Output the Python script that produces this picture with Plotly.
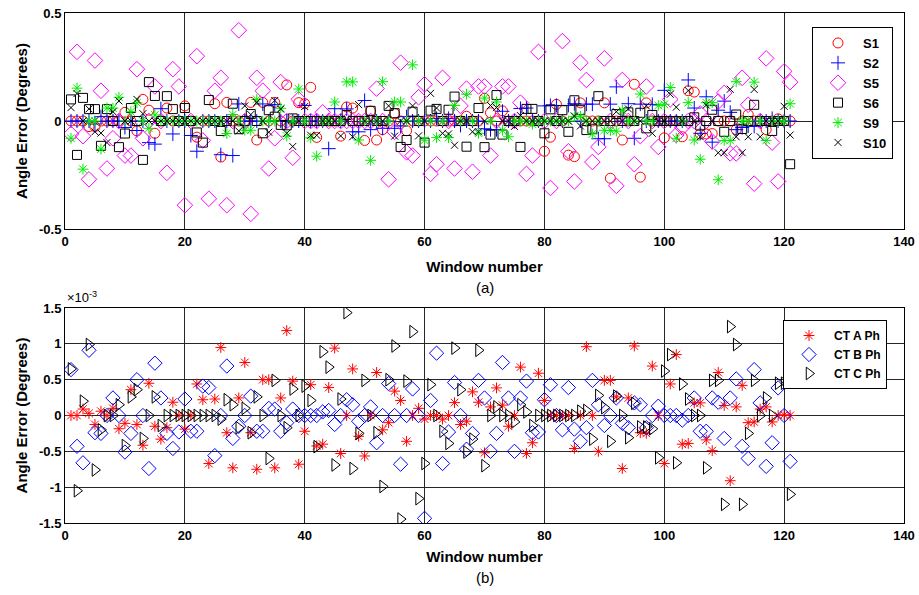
import numpy as np
import plotly.graph_objects as go

# Window index shared by every series
windows = list(range(1, 122))

# ---- (a) per-sensor angle error, degrees ----
s1 = [0, 0, 0, -0.026, -0.026, 0, 0, 0, 0, 0.04,
      0, -0.046, 0.10, 0.05, -0.057, 0, 0.06, 0, 0, 0.07,
      0, -0.075, 0, 0, 0.08, -0.167, 0.086, 0, 0, 0,
      0.086, -0.088, 0.086, 0, 0.086, 0, 0.167, 0, 0.085, 0.08,
      0.156, -0.076, 0, 0, 0, -0.07, 0.065, 0.06, 0, -0.09,
      0.046, -0.088, -0.04, 0, 0.035, 0, -0.045, 0, 0, 0,
      0, 0, 0, 0, 0, 0, 0.022, 0, 0, 0.105,
      0.038, 0, 0.047, 0, 0, 0, 0, 0, 0, -0.14,
      -0.075, 0.077, 0, -0.158, -0.165, 0.084, 0, 0, 0, 0.084,
      -0.265, 0, -0.088, 0, 0.17, -0.26, 0.084, 0, 0, -0.078,
      0, 0, -0.073, 0.14, 0.134, -0.06, -0.06, -0.058, 0, 0,
      0, -0.04, 0, 0.03, 0, 0, -0.04, 0, 0.01, 0, 0]

s2 = [0, 0, 0, 0, -0.014, 0.02, 0, 0, 0, -0.03,
      0, -0.044, 0, -0.1, -0.107, 0.057, 0, -0.06, 0, 0,
      -0.067, -0.14, 0, 0, 0, -0.156, 0, -0.16, 0.079, 0,
      0, 0, 0.079, 0, 0.076, 0, 0, 0, 0, 0.072,
      0, 0, 0, -0.128, 0.057, 0, 0.056, -0.05, -0.05, 0.095,
      -0.04, 0, -0.034, 0, -0.034, -0.023, 0.02, 0, 0, 0,
      0, 0.012, 0, 0.012, 0, -0.02, 0, 0, 0, -0.036,
      -0.04, -0.04, 0.045, 0, 0, 0.058, 0.06, 0, 0, 0.07,
      0.072, 0.072, 0, 0.072, 0.08, 0, 0.078, 0.078, -0.082, -0.082,
      0.078, 0.158, 0, 0.08, -0.08, 0.078, 0, 0.077, 0, 0.142,
      0, 0, 0, 0.19, 0.06, -0.057, 0.112, -0.098, 0.05, 0.092,
      0.04, -0.04, -0.03, -0.023, -0.025, 0, 0, 0.012, 0, 0, 0]

s5 = [-0.06, 0.32, -0.07, -0.27, 0.28, 0.14, -0.22, -0.08, 0, -0.16,
      -0.16, 0.24, -0.08, 0, 0.16, 0, -0.24, 0.24, 0.16, -0.39,
      0, 0.30, -0.09, -0.36, 0.14, 0.20, -0.39, 0, 0.42, 0,
      -0.43, 0.20, 0.14, -0.22, -0.08, 0.18, 0, -0.17, 0.10, 0,
      0, 0, 0.04, 0, 0, 0, 0, 0, 0, 0,
      0, 0.15, 0, -0.27, -0.05, 0.27, -0.145, -0.16, 0.11, 0.17,
      -0.245, -0.20, 0.20, 0, -0.22, 0.07, 0.15, -0.235, 0.16, 0.16,
      -0.16, 0, 0.16, 0.16, 0, 0.085, -0.245, -0.16, 0.32, 0,
      -0.31, 0, 0.37, -0.14, -0.28, 0.27, 0.19, -0.19, -0.12, 0.29,
      0, -0.30, 0.19, 0, -0.20, -0.07, 0.16, 0, -0.12, 0,
      0.10, -0.065, -0.03, 0, 0, 0.035, 0, -0.095, 0.09, 0.13,
      -0.15, -0.15, 0.20, 0.075, -0.29, 0, 0.29, -0.10, -0.28, 0.23, 0.18]

s6 = [0.1, -0.157, 0.107, 0.055, 0.055, -0.115, 0.055, 0, -0.121, -0.058,
      0.06, 0, -0.18, 0.18, 0.116, 0, 0.115, 0.055, 0, 0.06,
      0, -0.053, -0.1, 0.097, 0, -0.046, 0, 0.08, -0.038, 0,
      0.032, 0, -0.057, 0.05, 0.02, -0.018, -0.02, 0.012, 0, 0,
      0, 0, 0, 0, 0, 0, 0.028, 0, 0, 0,
      0.047, 0, 0, 0.07, 0.036, -0.12, -0.088, 0.043, 0, -0.1,
      0.048, 0.056, 0, 0.052, 0.113, 0, -0.119, 0, 0.06, -0.121,
      -0.063, 0.12, -0.063, 0, 0, -0.12, 0.056, 0.056, 0, -0.057,
      0.054, 0, 0.05, -0.05, 0.096, 0.05, -0.042, -0.036, 0.115, 0,
      0, 0.032, 0, 0.04, 0, 0.038, -0.034, 0.028, 0, 0,
      0, 0, 0, 0, 0.017, -0.021, 0, 0.052, 0, -0.05,
      0, 0.03, -0.037, 0, 0.075, 0, 0, -0.046, 0, 0, -0.2]

s9 = [-0.08, 0.152, -0.223, 0, 0, -0.13, 0.06, 0.06, 0.11, 0,
      0.043, 0.084, 0, -0.034, 0.028, 0, 0, 0, 0, 0,
      0, 0, 0, 0, 0, 0, -0.058, 0.03, 0, -0.043,
      -0.043, 0.1, 0, 0, 0, 0.059, -0.07, 0, 0.148, 0,
      -0.078, -0.163, 0, 0, 0.088, 0, 0.181, 0.181, -0.088, 0,
      -0.182, 0, 0.182, 0, 0.088, 0.088, 0, 0.26, 0, -0.089,
      0, -0.077, 0, -0.077, 0.072, 0, 0.124, 0, -0.057, 0.106,
      0, 0.088, -0.043, -0.073, 0, 0, 0, -0.015, 0, 0,
      0, 0, 0, 0, 0.02, 0.022, 0, -0.06, 0, -0.043,
      -0.044, -0.047, 0.05, 0, 0, 0.125, 0, 0, 0.072, 0.077,
      0.155, -0.08, 0, 0.085, -0.088, -0.177, 0.085, 0.085, -0.272, -0.09,
      -0.09, 0.182, 0, 0, 0.18, 0, -0.09, 0, 0, 0, 0.08]

s10 = [0.062, 0.127, 0, 0.056, -0.05, -0.056, -0.1, 0.043, 0.093, 0,
       0, 0.1, 0.034, 0, 0, 0, 0, 0, 0, 0,
       0, 0, 0, 0, 0, 0, 0, 0, -0.046, 0.07,
       0.03, 0.086, 0, -0.052, 0.095, 0.055, -0.057, -0.118, 0, 0.067,
       -0.066, -0.066, 0, 0, 0, -0.069, 0, -0.073, 0.076, 0,
       0, 0, 0, 0.07, -0.07, 0, 0, 0.07, -0.069, 0,
       0.128, 0.06, -0.057, -0.06, -0.112, 0, 0, -0.05, -0.05, 0,
       0.072, 0.062, 0, 0, -0.025, 0.025, 0, 0, 0, 0,
       0, 0, 0, 0, 0.023, -0.023, 0, 0, 0, 0,
       0, 0.043, 0, 0.056, 0, 0, 0.07, -0.057, 0, 0,
       0.124, 0.064, 0, 0.141, 0, -0.073, 0.074, 0, -0.147, -0.147,
       0.147, -0.073, -0.147, -0.073, 0.146, -0.073, 0, 0, 0, 0.068, -0.065]

# ---- (b) per-phase CT angle error, in units of 1e-3 degrees ----
ct_a = [0, 0, 0.09, 0.03, -0.125, 0.06, 0, 0.1, -0.185, -0.11,
        0.36, -0.125, -0.415, 0.45, -0.15, -0.33, -0.17, 0.185, 0, -0.19,
        0, 0.44, 0.22, -0.67, 0.23, 0.95, -0.24, -0.73, 0.245, 0.74,
        -0.24, -0.75, 0.5, 0.5, -0.73, 0.245, 1.185, 0.48, -0.68, -0.22,
        0.43, -0.425, -0.4, 0.39, 0.94, -0.53, 0, 0.65, -0.29, -0.565,
        0, 0.6, -0.2, -0.1, 0.34, 0.21, -0.36, 0, 0.1, -0.05,
        0, 0, -0.05, 0, 0.18, -0.125, -0.08, 0.33, 0.185, -0.52,
        0.12, 0.385, 0.145, -0.15, 0, 0.675, -0.53, -0.38, 0.59, 0.21,
        0, 0, 0, 0, -0.46, 0, 0.96, 0, -0.5, 0.49,
        0.49, 0.26, -0.74, 0.245, 0.97, -0.24, -0.25, 0.69, 0, -0.67,
        0.44, 0.85, -0.4, -0.39, 0.176, 0.176, -0.34, -0.49, 0.6, 0.14,
        -0.91, 0.12, 0.42, -0.1, -0.09, 0.09, 0.12, -0.09, 0, 0.01, 0]

ct_b = [0.64, -0.43, -0.66, 0.91, -0.24, -0.25, 0, 0.245, 0, -0.51,
        -0.25, 0.5, 0, -0.74, 0.73, 0.245, -0.25, -0.46, -0.23, 0.23,
        -0.22, -0.22, 0.41, 0.39, -0.56, 0, 0.69, -0.32, -0.15, 0,
        0.27, -0.22, -0.22, 0.1, 0.09, -0.22, -0.1, 0.09, 0, 0,
        0, 0, 0.05, 0.07, -0.125, 0, 0.22, 0.15, -0.08, 0,
        0.12, -0.38, 0, 0.445, 0, -0.68, 0, 0.37, 0, -1.435,
        0.21, 0.87, -0.67, -0.23, 0.46, 0, -0.47, -0.25, 0.49, 0.245,
        -0.5, -0.25, 0.74, 0.245, -0.5, 0.245, 0.48, -0.24, -0.23, 0.22,
        0.43, 0, -0.2, 0.39, -0.19, -0.36, -0.17, 0.49, 0.15, -0.14,
        0, 0.245, -0.11, -0.17, 0.176, 0.15, -0.17, 0, 0.13, 0,
        0, 0, -0.065, 0, 0.245, -0.22, -0.22, 0.245, 0.185, -0.32,
        0.245, 0.51, -0.43, -0.6, 0.64, 0.176, -0.71, -0.38, 0.385, 0, -0.64]

ct_c = [0.65, -1.05, 0.2, 0.99, -0.76, -0.2, 0, 0, 0.15, -0.42,
        0.26, 0.36, -0.32, 0, 0.26, -0.14, 0, 0, 0, 0,
        0, 0, 0, 0, 0, -0.05, 0.22, 0.15, -0.17, 0.1,
        -0.24, 0.26, 0, -0.6, 0.49, 0, -0.17, 0.37, 0, 0.41,
        0.21, -0.435, 0.89, 0.675, -0.69, 0.23, 1.435, -0.74, -0.25, 0.49,
        0, -0.24, -0.99, 0.5, 0.97, -1.445, 0.48, 1.17, -1.16, -0.67,
        0.43, 0, -0.22, -0.39, 0.94, 0.36, -0.51, -0.33, 0.91, -0.7,
        0, 0.12, 0, 0, -0.09, 0.15, 0.05, -0.14, 0, 0,
        0, 0, 0, 0, 0, 0.06, 0.07, -0.33, 0.28, 0.11,
        -0.36, 0.27, 0, -0.31, 0.17, -0.16, -0.16, -0.185, -0.59, 0.62,
        0.85, -0.66, 0.44, 0.23, 0, 0, -0.73, 0.49, 0.49, -1.24,
        1.24, 0.99, -1.24, -0.25, 0.49, 0, 0.245, 0, 0.45, 0.45, -1.1]

x_ticks = [0, 20, 40, 60, 80, 100, 120, 140]
top_ticks = [-0.5, 0, 0.5]
top_tick_text = ["-0.5", "0", "0.5"]
bottom_ticks_mdeg = [-1.5, -1, -0.5, 0, 0.5, 1, 1.5]
bottom_tick_text = ["-1.5", "-1", "-0.5", "0", "0.5", "1", "1.5"]

FONT = "Liberation Sans, Arial, sans-serif"
RED, BLUE, MAGENTA, GREEN, BLACK = "#ff0000", "#0000ff", "#ff00ff", "#00ee00", "#000000"

# figure geometry (pixels)
W, H = 919, 595
M_L, M_R, M_T, M_B = 65, 15, 13, 72
PLOT_H = H - M_T - M_B

fig = go.Figure()

top_series = [
    ("S1", s1, "circle-open", 10, RED),
    ("S2", s2, "cross-thin-open", 10, BLUE),
    ("S5", s5, "diamond-open", 12, MAGENTA),
    ("S6", s6, "square-open", 9, BLACK),
    ("S9", s9, "asterisk-open", 9, GREEN),
    ("S10", s10, "x-thin-open", 7, BLACK),
]
for name, vals, sym, size, col in top_series:
    fig.add_trace(go.Scatter(
        x=windows, y=vals, mode="markers", name=name,
        marker=dict(symbol=sym, size=size, color=col, line=dict(color=col, width=1)),
        xaxis="x", yaxis="y", legend="legend"))

scale = 1e-3
bottom_series = [
    ("CT A Ph", ct_a, "asterisk-open", 9, RED),
    ("CT B Ph", ct_b, "diamond-open", 11, BLUE),
    ("CT C Ph", ct_c, "triangle-right-open", 11, BLACK),
]
for name, vals, sym, size, col in bottom_series:
    fig.add_trace(go.Scatter(
        x=windows, y=np.array(vals) * scale, mode="markers", name=name,
        marker=dict(symbol=sym, size=size, color=col, line=dict(color=col, width=1)),
        xaxis="x2", yaxis="y2", legend="legend2"))

tick_font = dict(family=FONT, size=13, color="black", weight="bold")
title_font = dict(family=FONT, size=15, color="black", weight="bold")
common_axis = dict(showline=True, linecolor="black", linewidth=1, mirror=True,
                   showgrid=True, gridcolor="#262626", gridwidth=1,
                   zeroline=False, ticks="", tickfont=tick_font, automargin=False)


def py(px):
    """Paper y-fraction for a pixel row measured from the top of the page."""
    return (H - M_B - px) / PLOT_H


def px_(x):
    """Paper x-fraction for a pixel column measured from the left of the page."""
    return (x - M_L) / (W - M_L - M_R)


fig.update_layout(
    width=W, height=H,
    margin=dict(l=M_L, r=M_R, t=M_T, b=M_B, autoexpand=False),
    paper_bgcolor="white", plot_bgcolor="white",
    showlegend=True,
    xaxis=dict(domain=[0, 1], range=[0, 140], tickvals=x_ticks, anchor="y",
               title=dict(text="Window number", font=title_font, standoff=13),
               **common_axis),
    yaxis=dict(domain=[py(229), 1], range=[-0.5, 0.5], tickvals=top_ticks,
               ticktext=top_tick_text, anchor="x",
               title=dict(text="Angle Error (Degrees)", font=title_font, standoff=7),
               **common_axis),
    xaxis2=dict(domain=[0, 1], range=[0, 140], tickvals=x_ticks, anchor="y2",
                title=dict(text="Window number", font=title_font, standoff=9),
                **common_axis),
    yaxis2=dict(domain=[0, py(308)], range=[-1.5 * scale, 1.5 * scale],
                tickvals=[v * scale for v in bottom_ticks_mdeg],
                ticktext=bottom_tick_text, anchor="x2",
                title=dict(text="Angle Error (Degrees)", font=title_font, standoff=7),
                **common_axis),
    legend=dict(x=px_(812), y=py(27), xanchor="left", yanchor="top",
                bgcolor="white", bordercolor="black", borderwidth=1,
                font=dict(family=FONT, size=13, color="black", weight="bold"),
                tracegroupgap=0, itemwidth=40),
    legend2=dict(x=px_(783), y=py(320), xanchor="left", yanchor="top",
                 bgcolor="white", bordercolor="black", borderwidth=1,
                 font=dict(family=FONT, size=12, color="black", weight="bold"),
                 tracegroupgap=0, itemwidth=40),
    annotations=[
        dict(text="(a)", x=0.5, y=py(287), xref="paper", yref="paper",
             xanchor="center", yanchor="middle", showarrow=False,
             font=dict(family=FONT, size=15, color="black")),
        dict(text="(b)", x=0.5, y=py(577), xref="paper", yref="paper",
             xanchor="center", yanchor="middle", showarrow=False,
             font=dict(family=FONT, size=15, color="black")),
        dict(text="×10<sup>-3</sup>", x=0, y=py(308), xref="paper", yref="paper",
             xanchor="left", yanchor="bottom", showarrow=False, yshift=1,
             font=dict(family=FONT, size=13, color="black")),
    ],
)

fig.write_html("out.html")
